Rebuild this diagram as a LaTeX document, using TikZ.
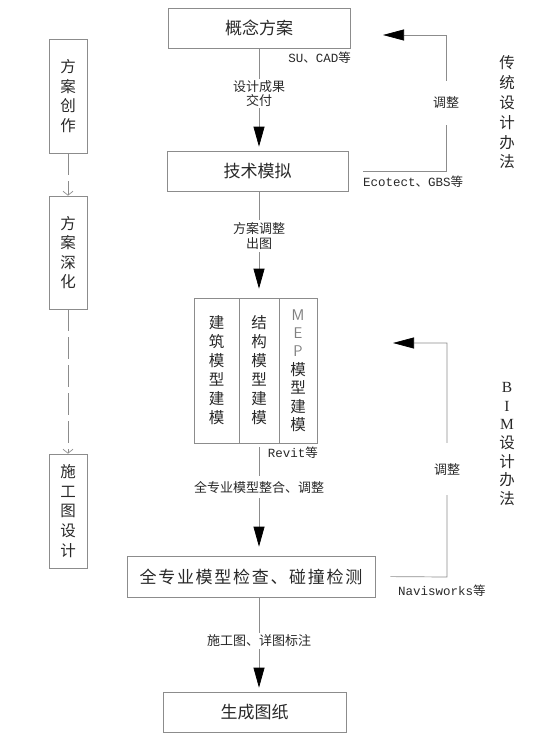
\documentclass[tikz,border=0pt]{standalone}
\usepackage{fontspec}
\setmainfont{Noto Sans CJK SC}
\newfontfamily\monofont{Liberation Mono}
\newfontfamily\seriffont{Liberation Serif}
\newfontfamily\widefont[LetterSpace=10]{Noto Sans CJK SC}
\usetikzlibrary{arrows.meta,positioning}
\definecolor{linegray}{RGB}{140,140,140}
\definecolor{txt}{RGB}{40,40,40}

\begin{document}
\begin{tikzpicture}[x=1pt,y=-1pt,
	box/.style={draw=linegray,line width=0.7pt,inner sep=0pt,minimum height=40pt,text=txt,font=\fontsize{17}{17}\selectfont},
	colbox/.style={draw=linegray,line width=0.7pt,inner sep=0pt,minimum height=145pt,align=center,text=txt,font=\fontsize{15.5}{19}\selectfont},
	sidebox/.style={draw=linegray,line width=0.7pt,inner sep=0pt,minimum width=38pt,minimum height=114pt,align=center,text=txt,font=\fontsize{15.5}{19.6}\selectfont},
	vtext/.style={align=center,inner sep=0pt,text=txt,font=\fontsize{15.5}{19.8}\selectfont},
	lbl/.style={fill=white,align=center,inner sep=1pt,text=txt,font=\fontsize{13}{14.5}\selectfont},
	note/.style={inner sep=0pt,text=txt,font=\fontsize{12.5}{12.5}\selectfont},
	flow/.style={draw=linegray,line width=0.7pt,-{Triangle[length=20pt,width=11pt,color=black]}},
	back/.style={draw=linegray,line width=0.7pt,-{Triangle[length=21pt,width=11pt,color=black]}},
	dashflow/.style={draw=linegray,line width=0.7pt,dash pattern=on 22pt off 6pt,-{Straight Barb[length=4pt,width=10pt]}}]
	\useasboundingbox (0,0) rectangle (553,737);
	% main flow
	\node (gn) at (259,28) [box,minimum width=182pt] {概念方案};
	\node (js) at (257.5,171) [box,minimum width=181pt] {技术模拟};
	\node (jz) at (216.5,370.5) [colbox,minimum width=45pt] {建\\筑\\模\\型\\建\\模};
	\node (jg) at (259,370.5) [colbox,minimum width=40pt] {结\\构\\模\\型\\建\\模};
	\node (mep) at (298,370.5) [colbox,minimum width=38pt,font=\fontsize{15.5}{18.4}\selectfont] {{\sffamily\color{gray}M}\\{\sffamily\color{gray}E}\\{\sffamily\color{gray}P}\\模\\型\\建\\模};
	\node (jc) at (251,576.5) [box,minimum width=248pt,minimum height=41pt] {\widefont 全专业模型检查、碰撞检测};
	\node (sc) at (254.5,712) [box,minimum width=183pt] {生成图纸};
	% tools
	\node (su) at (351,58) [note,anchor=east] {{\monofont SU}、{\monofont CAD}等};
	\node (eco) at (363,182) [note,anchor=west] {{\monofont Ecotect}、{\monofont GBS}等};
	\node (rev) at (318,453) [note,anchor=east] {{\monofont Revit}等};
	\node (nav) at (398,591) [note,anchor=west] {{\monofont Navisworks}等};
	% stages
	\node (fa1) at (68,96) [sidebox] {方\\案\\创\\作};
	\node (fa2) at (68,252.5) [sidebox,minimum height=113pt] {方\\案\\深\\化};
	\node (sg) at (68,511) [sidebox] {施\\工\\图\\设\\计};
	\node (ct) at (507,112.5) [vtext] {传\\统\\设\\计\\办\\法};
	\node (bim) at (507,444) [vtext,font=\fontsize{15.5}{18.7}\selectfont] {{\seriffont B}\\{\seriffont I}\\{\seriffont M}\\设\\计\\办\\法};
	\draw[flow,shorten >=4pt] (gn.south) -- node[lbl,pos=0.44] {设计成果\\交付} (gn.south |- js.north);
	\draw[flow,shorten >=9pt] (jg.north |- js.south) -- node[lbl,pos=0.42,inner ysep=3pt] {方案调整\\出图} (jg.north);
	\draw[flow,shorten <=4pt,shorten >=9pt] (jg.south) -- node[lbl,pos=0.39,inner ysep=5pt] {全专业模型整合、调整} (jg.south |- jc.north);
	\draw[flow,shorten >=4pt] (jg.south |- jc.south) -- node[lbl,pos=0.46,inner ysep=2pt] {施工图、详图标注} (jg.south |- sc.north);
	% feedback
	\coordinate (r1) at (446,171);
	\coordinate (r2) at (446,35);
	\coordinate (t1) at (383,35);
	\draw[back,shorten <=15pt] (js.east) -- (r1) -- node[lbl,minimum height=44pt] {调整} (r2) -- (t1);
	\coordinate (r3) at (447,577);
	\coordinate (r4) at (447,343);
	\coordinate (t2) at (393,343);
	\draw[back,shorten <=15pt] (jc.east) -- (r3) -- node[lbl,minimum height=52pt,pos=0.46] {调整} (r4) -- (t2);
	\draw[dashflow] (fa1) -- (fa2);
	\draw[dashflow] (fa2) -- (sg);
\end{tikzpicture}
\end{document}
